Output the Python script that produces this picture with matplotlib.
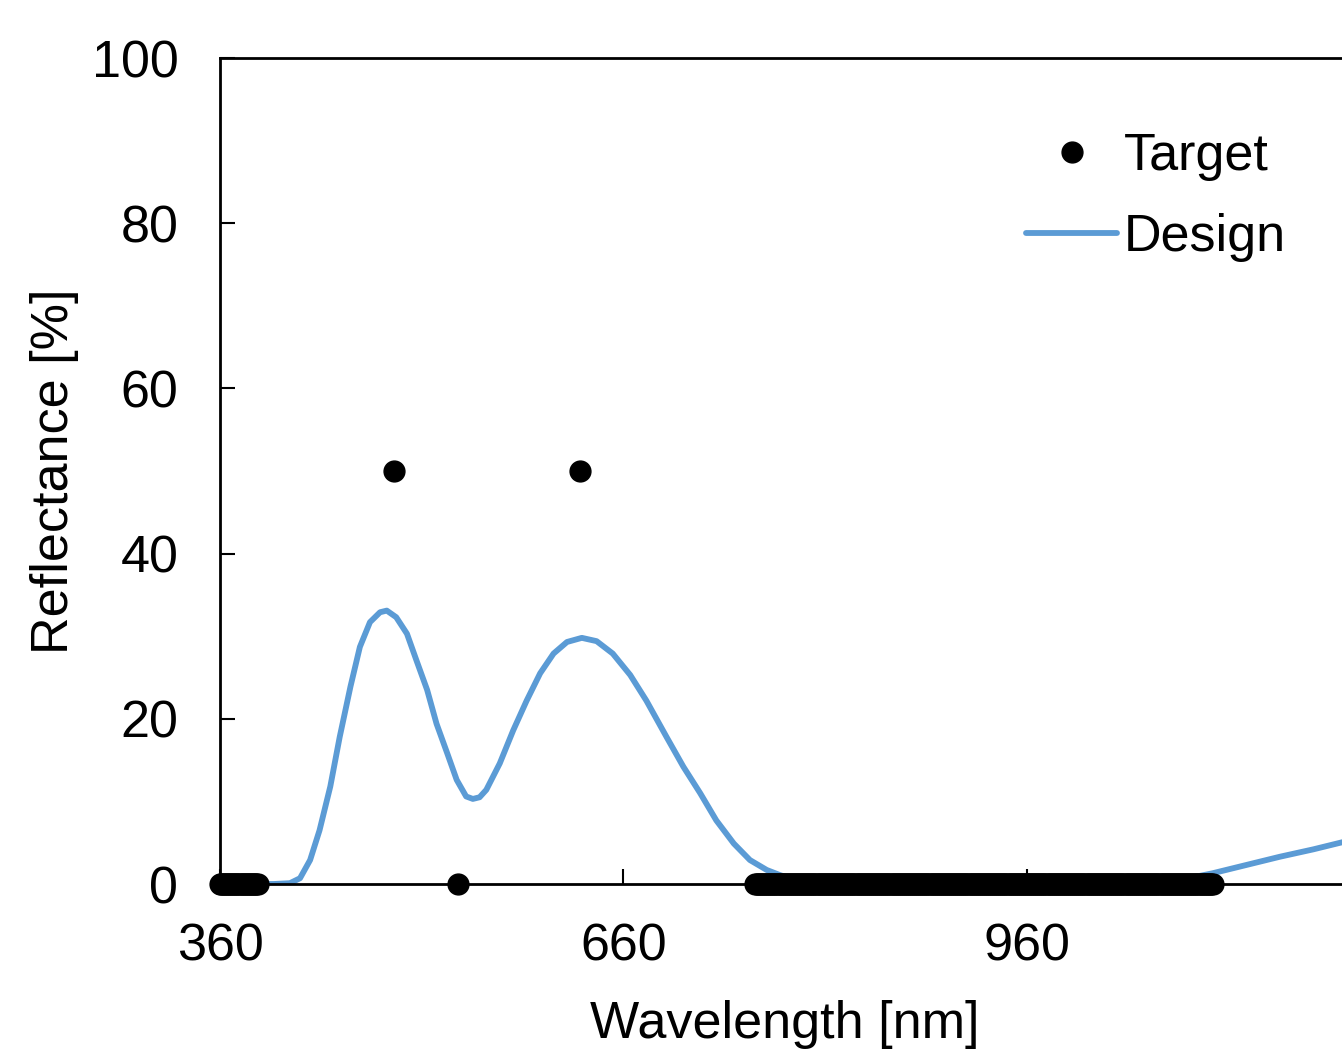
import matplotlib
matplotlib.use('Agg')
import matplotlib.pyplot as plt
import numpy as np

# design reflectance curve (nm, %)
design_wl = [360, 380, 400, 412, 419.5, 427, 434, 442, 449, 457, 464, 471.5,
             479, 484, 491, 499, 506, 514, 521, 529, 536, 543, 548, 553,
             558, 568, 578, 588, 598, 608, 618, 629, 640, 652, 665, 677,
             692, 704.5, 717, 729, 742, 754, 766.5, 776, 791, 814, 1030,
             1051, 1074, 1098, 1123, 1148, 1173, 1193, 1208]
design_r = [0.0, 0.0, 0.0, 0.1, 0.7, 2.9, 6.5, 11.8, 17.8, 23.9, 28.7, 31.7,
            32.9, 33.1, 32.3, 30.3, 27.1, 23.5, 19.4, 15.8, 12.6, 10.6, 10.3,
            10.5, 11.4, 14.6, 18.6, 22.2, 25.5, 27.9, 29.3, 29.8, 29.4, 27.9,
            25.3, 22.2, 17.8, 14.2, 11.0, 7.7, 4.9, 2.9, 1.7, 1.1, 0.3, 0.0,
            0.0, 0.1, 0.5, 1.3, 2.3, 3.3, 4.2, 5.0, 5.6]

# target points: two 50 % peaks and zero bands
peak_wl = [489, 628, 537]
peak_r = [50, 50, 0]
zero_bands = [(360, 388), (758, 1098)]
zero_step = 1

target_wl = list(peak_wl)
target_r = list(peak_r)
for lo, hi in zero_bands:
    band = np.arange(lo, hi + zero_step, zero_step)
    target_wl += list(band)
    target_r += [0] * len(band)

xticks = [360, 660, 960]
yticks = [0, 20, 40, 60, 80, 100]

plt.rcParams['font.family'] = ['Liberation Sans', 'DejaVu Sans']
fs = 37.5

W, H = 1342, 1052
fig = plt.figure(figsize=(W / 100, H / 100), dpi=100)
# axes runs a little past the right border (reference is cropped there)
x0, x1 = 220, 220 + 840 * 403.5 / 300
y0, y1 = 884, 58
ax = fig.add_axes([x0 / W, 1 - y0 / H, (x1 - x0) / W, (y0 - y1) / H])

ax.plot(design_wl, design_r, color='#5B9BD5', lw=4.2, label='Design',
        solid_joinstyle='round', solid_capstyle='round', zorder=2)
ax.plot(target_wl, target_r, 'o', color='black', ms=15, label='Target',
        clip_on=False, zorder=3)

ax.set_xlim(360, 1200)
ax.set_ylim(0, 100)
ax.set_xticks(xticks)
ax.set_yticks(yticks)
ax.tick_params(direction='in', length=11, width=1.5, labelsize=fs)
ax.tick_params(axis='x', pad=28)
ax.tick_params(axis='y', pad=30)
for s in ax.spines.values():
    s.set_linewidth(2)

ax.set_xlabel('Wavelength [nm]', fontsize=fs, labelpad=20)
ax.set_ylabel('Reflectance [%]', fontsize=fs, labelpad=9)

h, l = ax.get_legend_handles_labels()
ax.legend(h[::-1], l[::-1], loc='upper left', frameon=False, fontsize=fs,
          bbox_to_anchor=(1026 / W, 1 - 132 / H),
          bbox_transform=fig.transFigure, borderpad=0, borderaxespad=0,
          handlelength=1.75, handletextpad=0.12, labelspacing=0.62,
          numpoints=1)

fig.savefig('out.png', dpi=100)
